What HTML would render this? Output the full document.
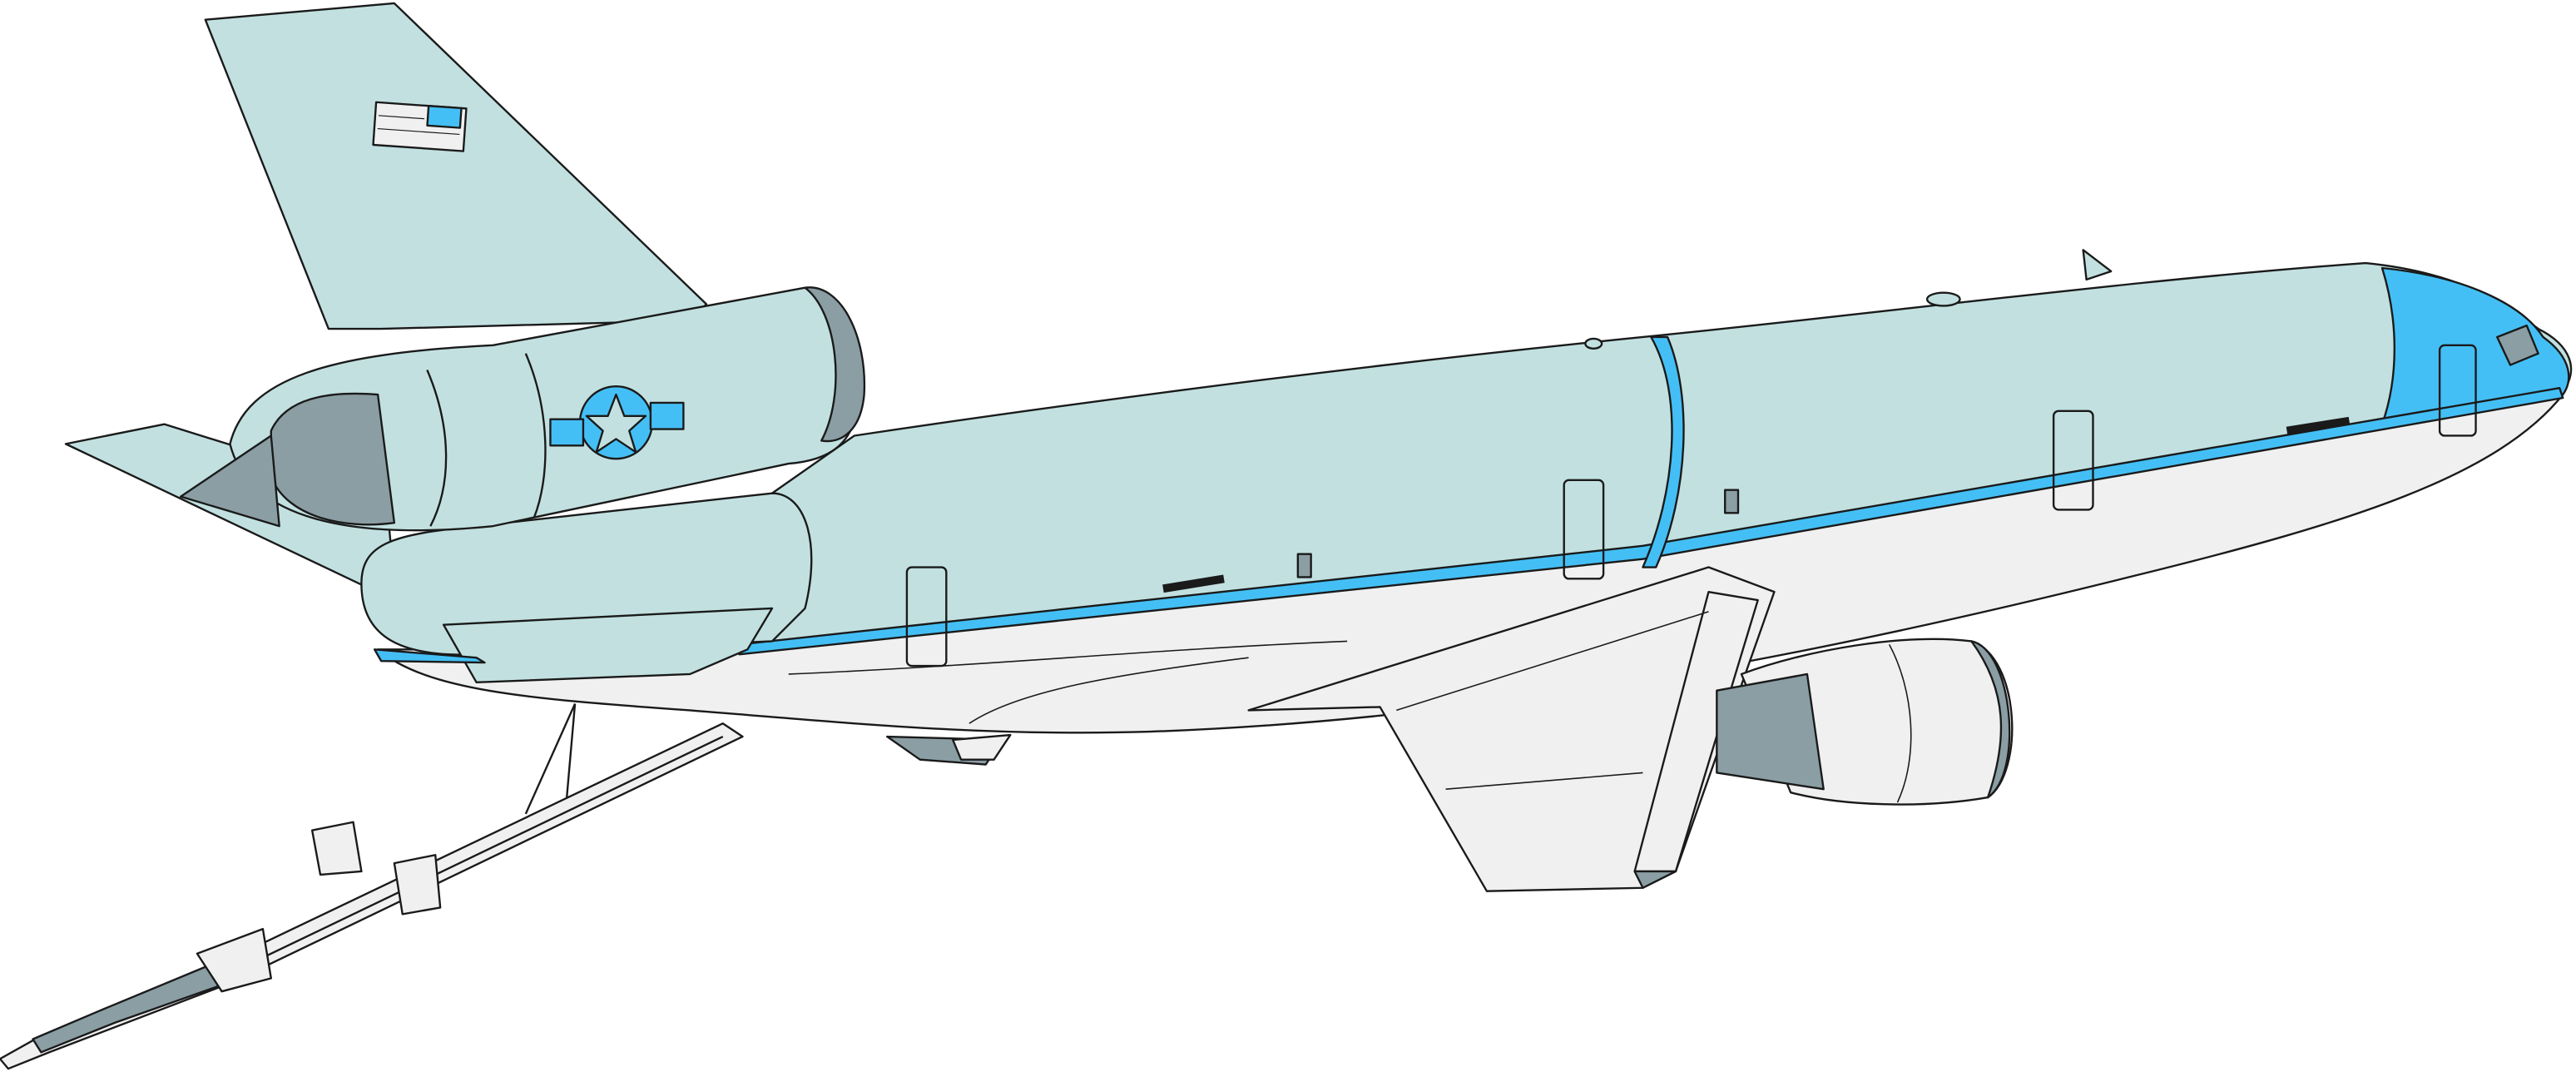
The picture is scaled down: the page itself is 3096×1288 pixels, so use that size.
<!DOCTYPE html>
<html><head><meta charset="utf-8"><style>
html,body{margin:0;padding:0;background:#fff;}
svg{display:block;}
</style></head><body>
<svg width="3096" height="1288" viewBox="0 0 1568 652" preserveAspectRatio="none" xmlns="http://www.w3.org/2000/svg">
<g stroke="#1a1a1a" stroke-width="1.2" stroke-linejoin="round">
<!-- boom -->
<polygon points="440,440 452,448 140,598 30,640 5,650 0,644 25,630 130,588" fill="#f0f0f0"/>
<line x1="440" y1="448" x2="140" y2="592"/>
<polygon points="130,586 60,615 20,632 25,640 70,622 138,598" fill="#8a9ea4"/>
<polygon points="120,580 160,565 165,595 135,603" fill="#f0f0f0"/>
<polygon points="190,505 215,500 220,530 195,532" fill="#f0f0f0"/>
<polygon points="240,525 265,520 268,552 245,556" fill="#f0f0f0"/>
<line x1="350" y1="428" x2="320" y2="495"/><line x1="350" y1="428" x2="345" y2="485"/>
<!-- left horizontal stabilizer -->
<polygon points="40,270 100,258 235,300 240,355 225,358" fill="#c2e0e0"/>
<!-- vertical tail -->
<polygon points="125,12 240,2 430,185 420,195 232,200 200,200" fill="#c2e0e0"/>
<g transform="rotate(4 255 77)">
<rect x="228" y="64" width="55" height="26" fill="#f0f0f0"/>
<rect x="260" y="64" width="20" height="12" fill="#44bff5"/>
<line x1="230" y1="72" x2="258" y2="72" stroke-width="0.6"/><line x1="230" y1="80" x2="280" y2="80" stroke-width="0.6"/>
</g>
<!-- white lower fuselage -->
<path d="M230,395 C260,420 320,425 420,432 C520,440 600,448 700,445 C900,438 1100,400 1300,350 C1430,318 1520,290 1560,240 L1560,235 L1000,335 L450,395 Z" fill="#f0f0f0"/>
<!-- teal upper fuselage -->
<path d="M450,395 L1000,335 L1560,238 C1570,225 1565,210 1545,200 C1520,180 1490,165 1440,160 C1300,170 1150,190 1000,205 C800,225 620,250 520,265 L470,300 L450,395 Z" fill="#c2e0e0"/>
<!-- nose blue -->
<path d="M1450,163 C1500,168 1535,185 1548,205 C1566,218 1566,232 1560,240 L1450,258 C1460,230 1460,195 1450,163 Z" fill="#44bff5"/>
<polygon points="1520,205 1538,198 1545,215 1528,222" fill="#8a9ea4"/>
<!-- stripe -->
<path d="M450,392 L1000,332 L1558,236 L1560,242 L1000,340 L450,398 Z" fill="#44bff5"/>
<path d="M1005,205 C1025,240 1020,300 1000,345 L1008,345 C1028,300 1030,240 1015,205 Z" fill="#44bff5"/>
<!-- tail engine nacelle -->
<path d="M220,355 C220,330 240,325 290,320 L470,300 C490,300 500,330 490,370 L470,390 L290,398 C240,400 220,385 220,355 Z" fill="#c2e0e0"/>
<path d="M140,270 C150,230 200,215 300,210 L490,175 C515,175 525,210 522,245 C520,270 505,280 480,282 L300,320 C200,330 150,310 140,270 Z" fill="#c2e0e0"/>
<path d="M490,175 C512,172 528,205 526,240 C524,262 512,270 500,268 C515,240 510,190 490,175 Z" fill="#8a9ea4"/>
<path d="M165,262 C175,240 205,238 230,240 L240,318 C210,322 175,315 165,290 Z" fill="#8a9ea4"/>
<polygon points="110,302 165,265 170,320" fill="#8a9ea4"/>
<path d="M260,225 C275,260 275,295 262,320" fill="none"/>
<path d="M320,215 C335,250 335,290 325,315" fill="none"/>
<circle cx="375" cy="257" r="22" fill="#44bff5"/>
<rect x="335" y="255" width="20" height="16" fill="#44bff5"/>
<rect x="396" y="245" width="20" height="16" fill="#44bff5"/>
<polygon points="375,240 380,253 393,253 383,262 387,275 375,267 363,275 367,262 357,253 370,253" fill="#c2e0e0"/>
<polygon points="270,380 470,370 455,395 420,410 290,415" fill="#c2e0e0"/>
<path d="M228,395 L290,400 L295,403 L232,402 Z" fill="#44bff5"/>
<!-- fuselage details -->
<path d="M480,410 C600,405 700,395 820,390" fill="none" stroke-width="0.8"/>
<path d="M590,440 C620,420 680,410 760,400" fill="none" stroke-width="0.8"/>
<ellipse cx="970" cy="209" rx="5" ry="3" fill="#c2e0e0"/>
<ellipse cx="1183" cy="182" rx="10" ry="4" fill="#c2e0e0"/>
<polygon points="1268,152 1285,165 1270,170" fill="#c2e0e0"/>
<!-- wing -->
<polygon points="760,432 1040,345 1080,360 1020,530 1000,540 905,542 840,430" fill="#f0f0f0"/>
<polygon points="1040,360 1070,365 1020,530 995,530" fill="#f0f0f0"/>
<line x1="850" y1="432" x2="1040" y2="372" stroke-width="0.8"/>
<line x1="880" y1="480" x2="1000" y2="470" stroke-width="0.8"/>
<polygon points="995,530 1020,530 1000,540" fill="#8a9ea4"/>
<!-- engine -->
<path d="M1060,410 C1100,395 1160,385 1200,390 C1230,400 1232,470 1210,485 C1170,492 1120,490 1090,482 Z" fill="#f0f0f0"/>
<path d="M1200,390 C1225,395 1232,470 1210,485 C1222,450 1222,420 1200,390 Z" fill="#8a9ea4"/>
<path d="M1045,420 L1100,410 L1110,480 L1045,470 Z" fill="#8a9ea4"/>
<path d="M1150,392 C1165,420 1168,460 1155,488" fill="none" stroke-width="0.8"/>
<polygon points="540,448 610,450 600,465 560,462" fill="#8a9ea4"/>
<polygon points="580,450 615,447 605,462 585,462" fill="#f0f0f0"/>
<!-- details -->
<rect x="552" y="345" width="24" height="60" rx="3" fill="none"/>
<rect x="952" y="292" width="24" height="60" rx="3" fill="none"/>
<rect x="1250" y="250" width="24" height="60" rx="3" fill="none"/>
<rect x="1485" y="210" width="22" height="55" rx="3" fill="none"/>
<rect x="1050" y="298" width="8" height="14" fill="#8a9ea4"/>
<rect x="790" y="337" width="8" height="14" fill="#8a9ea4"/>
<line x1="708" y1="358" x2="745" y2="352" stroke-width="5"/>
<line x1="1392" y1="262" x2="1430" y2="256" stroke-width="5"/>
</g>
</svg>
</body></html>
